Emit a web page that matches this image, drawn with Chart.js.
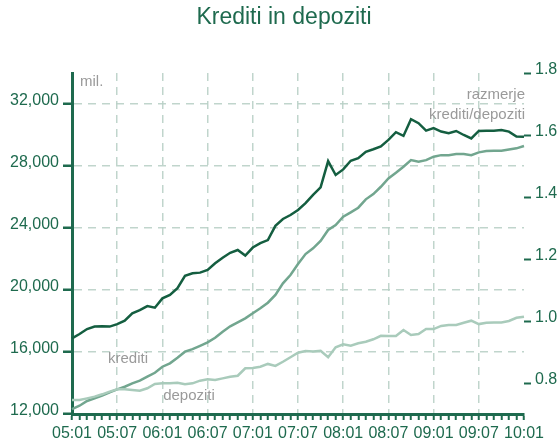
<!DOCTYPE html>
<html lang="sl">
<head>
<meta charset="UTF-8">
<title>Krediti in depoziti</title>
<script src="https://cdn.jsdelivr.net/npm/chart.js"></script>
<style>
  body { margin: 0; background: #fff; }
  #wrap { width: 558px; height: 445px; }
</style>
</head>
<body>
<div id="wrap"><canvas id="myChart" width="558" height="445"></canvas></div>
<script>
// months yy:mm
const months = [
  "05:01","05:02","05:03","05:04","05:05","05:06","05:07","05:08","05:09","05:10","05:11","05:12",
  "06:01","06:02","06:03","06:04","06:05","06:06","06:07","06:08","06:09","06:10","06:11","06:12",
  "07:01","07:02","07:03","07:04","07:05","07:06","07:07","07:08","07:09","07:10","07:11","07:12",
  "08:01","08:02","08:03","08:04","08:05","08:06","08:07","08:08","08:09","08:10","08:11","08:12",
  "09:01","09:02","09:03","09:04","09:05","09:06","09:07","09:08","09:09","09:10","09:11","09:12",
  "10:01"
];

// mil. (left axis)
const krediti = [
  12320, 12535, 12840, 13010, 13180, 13400, 13590, 13760, 13980, 14150, 14410, 14660,
  15050, 15270, 15630, 16020, 16190, 16400, 16620, 16920, 17310, 17660, 17910, 18170,
  18500, 18820, 19180, 19680, 20430, 20970, 21680, 22320, 22690, 23160, 23870, 24190,
  24730, 25010, 25310, 25850, 26190, 26660, 27200, 27560, 27950, 28380, 28270, 28380,
  28600, 28700, 28700, 28770, 28770, 28700, 28880, 28960, 28980, 28980, 29070, 29140,
  29290
];
const depoziti = [
  12900, 12900, 13010, 13120, 13270, 13440, 13590, 13590, 13550, 13500, 13660, 13940,
  13980, 13980, 14020, 13920, 13980, 14150, 14240, 14190, 14300, 14400, 14470, 14950,
  14970, 15050, 15230, 15100, 15370, 15660, 15950, 16060, 16040, 16080, 15660, 16300,
  16500, 16410, 16560, 16660, 16820, 17040, 17030, 17030, 17420, 17100, 17160, 17480,
  17480, 17680, 17740, 17740, 17890, 18020, 17800, 17890, 17910, 17910, 18000, 18210,
  18280
];
// right axis
const razmerje = [
  0.944, 0.958, 0.974, 0.982, 0.983, 0.982, 0.990, 1.001, 1.025, 1.035, 1.048, 1.043,
  1.073, 1.084, 1.106, 1.146, 1.154, 1.156, 1.165, 1.186, 1.204, 1.220, 1.229, 1.211,
  1.237, 1.251, 1.261, 1.307, 1.329, 1.342, 1.358, 1.380, 1.407, 1.431, 1.516, 1.471,
  1.489, 1.517, 1.525, 1.546, 1.554, 1.563, 1.584, 1.609, 1.597, 1.651, 1.638, 1.614,
  1.622, 1.611, 1.606, 1.613, 1.600, 1.589, 1.613, 1.614, 1.614, 1.616, 1.611, 1.595,
  1.594
];

const leftTicks = [12000, 16000, 20000, 24000, 28000, 32000];
const rightTicks = [0.8, 1.0, 1.2, 1.4, 1.6, 1.8];

const green = '#1e6a4e';
const gridColor = 'rgba(185,208,198,0.9)';
const clear = 'rgba(0,0,0,0)';
const sans = '"Liberation Sans", Arial, sans-serif';

// title + text labels inside the plot
const textPlugin = {
  id: 'texts',
  afterDraw(chart) {
    const ctx = chart.ctx;
    ctx.save();
    ctx.textBaseline = 'alphabetic';
    ctx.fillStyle = green;
    ctx.font = '23px ' + sans;
    ctx.textAlign = 'center';
    ctx.fillText('Krediti in depoziti', 284, 24);

    ctx.fillStyle = '#9a9a9a';
    ctx.font = '15px ' + sans;
    ctx.textAlign = 'left';
    ctx.fillText('mil.', 80, 86);
    ctx.textAlign = 'center';
    ctx.fillText('krediti', 128, 363);
    ctx.fillText('depoziti', 189, 400);
    ctx.textAlign = 'right';
    ctx.fillText('razmerje', 525, 98.5);
    ctx.fillText('krediti/depoziti', 525, 118.5);
    ctx.restore();
  }
};

new Chart(document.getElementById('myChart'), {
  type: 'line',
  data: {
    labels: months,
    datasets: [
      { label: 'depoziti', data: depoziti, yAxisID: 'y', borderColor: '#a9cbbb', borderWidth: 2.5, pointRadius: 0, tension: 0 },
      { label: 'krediti', data: krediti, yAxisID: 'y', borderColor: '#72a68f', borderWidth: 2.5, pointRadius: 0, tension: 0 },
      { label: 'razmerje krediti/depoziti', data: razmerje, yAxisID: 'y1', borderColor: '#145e40', borderWidth: 2.5, pointRadius: 0, tension: 0 }
    ]
  },
  options: {
    responsive: false,
    animation: false,
    devicePixelRatio: 1,
    layout: { padding: { top: 73, left: 0, right: 0, bottom: 0 } },
    plugins: { legend: { display: false }, tooltip: { enabled: false } },
    scales: {
      x: {
        afterFit: s => { s.height = 31; },
        grid: {
          color: c => (c.index % 6 === 0 && c.index !== 0 && c.index !== 60) ? gridColor : clear,
          lineWidth: 1.5,
          tickColor: green,
          tickWidth: 2,
          tickLength: 6
        },
        border: { display: true, color: green, width: 3, dash: [8, 6] },
        ticks: {
          autoSkip: false, maxRotation: 0, minRotation: 0,
          color: green, padding: 4,
          font: { family: sans, size: 16 },
          callback: (v, i) => i % 6 === 0 ? months[i] : ''
        }
      },
      y: {
        position: 'left',
        min: 12000, max: 34000,
        afterFit: s => { s.width = 72; },
        afterBuildTicks: s => { s.ticks = leftTicks.map(v => ({ value: v })); },
        grid: {
          color: c => (c.tick && c.tick.value === 12000) ? clear : gridColor,
          lineWidth: 1.5,
          tickColor: green,
          tickWidth: 2.5,
          tickLength: 9
        },
        border: { display: true, color: green, width: 3, dash: [8, 6] },
        ticks: {
          color: green, padding: 4, labelOffset: -3.5,
          font: { family: sans, size: 16 },
          callback: v => v.toLocaleString('en-US')
        }
      },
      y1: {
        position: 'right',
        min: 0.7, max: 1.8,
        afterFit: s => { s.width = 34; },
        afterBuildTicks: s => { s.ticks = rightTicks.map(v => ({ value: v })); },
        grid: { drawOnChartArea: false, tickColor: green, tickWidth: 2, tickLength: 7 },
        border: { display: false },
        ticks: {
          color: green, padding: 4, labelOffset: -3,
          font: { family: sans, size: 16 },
          callback: v => v.toFixed(1)
        }
      }
    }
  },
  plugins: [textPlugin]
});
</script>
</body>
</html>
